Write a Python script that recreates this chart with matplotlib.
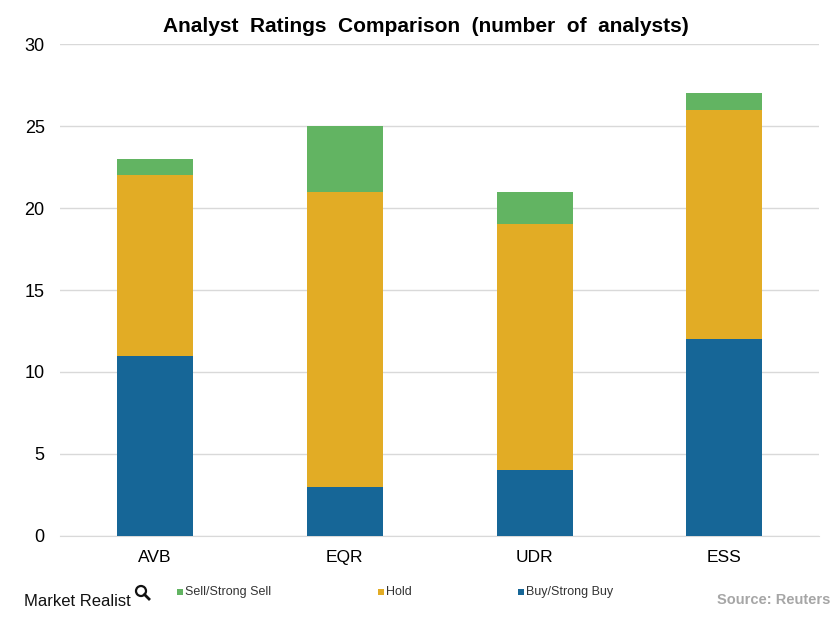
import matplotlib
matplotlib.use("Agg")
import matplotlib.pyplot as plt
import matplotlib.patches as mpatches
from matplotlib.lines import Line2D
import numpy as np

# ── Data ──────────────────────────────────────────────────────────────────────
TICKERS   = ["AVB", "EQR", "UDR", "ESS"]
BUY       = [11, 3, 4, 12]
HOLD      = [11, 18, 15, 14]
SELL      = [1, 4, 2, 1]
Y_TICKS   = [0, 5, 10, 15, 20, 25, 30]

C_BUY  = "#166697"
C_HOLD = "#E2AC25"
C_SELL = "#62B462"

plt.rcParams["font.family"] = ["Liberation Sans", "DejaVu Sans"]

W, H = 839, 620
fig = plt.figure(figsize=(W / 100, H / 100), dpi=100)
ax = fig.add_axes([0.0715, 0.1355, 0.905, 0.7935])

x = np.arange(len(TICKERS))
w = 0.4
buy = np.array(BUY)
hold = np.array(HOLD)
sell = np.array(SELL)
ax.bar(x, buy, width=w, color=C_BUY, zorder=3)
ax.bar(x, hold, width=w, bottom=buy, color=C_HOLD, zorder=3)
ax.bar(x, sell, width=w, bottom=buy + hold, color=C_SELL, zorder=3)

ax.set_xlim(-0.5, len(TICKERS) - 0.5)
ax.set_ylim(0, 30)
ax.set_yticks(Y_TICKS)
ax.set_yticklabels([str(t) for t in Y_TICKS], fontsize=13)
ax.set_xticks(x)
ax.set_xticklabels(TICKERS, fontsize=12.5)
ax.tick_params(axis="y", length=0, pad=11)
ax.tick_params(axis="x", length=0, pad=10)
ax.yaxis.grid(True, color="#D9D9D9", linewidth=1, zorder=0)
for s in ["top", "right", "left"]:
    ax.spines[s].set_visible(False)
ax.spines["bottom"].set_color("#D9D9D9")

fig.text(0.508, 0.958, "Analyst  Ratings  Comparison  (number  of  analysts)",
         ha="center", va="center", fontsize=15, fontweight="bold")

# ── Legend ────────────────────────────────────────────────────────────────────
leg_items = [("Sell/Strong Sell", C_SELL, 177),
             ("Hold", C_HOLD, 378),
             ("Buy/Strong Buy", C_BUY, 518)]
for label, col, px in leg_items:
    fig.patches.append(mpatches.Rectangle((px / W, 1 - 595 / H), 6 / W, 6 / H,
                                          transform=fig.transFigure,
                                          facecolor=col, edgecolor="none"))
    fig.text((px + 8) / W, 1 - 592 / H, label, ha="left", va="center",
             fontsize=9, color="#333333")

# ── Footer ────────────────────────────────────────────────────────────────────
fig.text(24 / W, 1 - 601 / H, "Market Realist", ha="left", va="center",
         fontsize=12, color="#111111")
fig.patches.append(mpatches.Ellipse((141 / W, 1 - 591 / H), 10 / W, 10 / H,
                                    transform=fig.transFigure, fill=False,
                                    edgecolor="#111111", linewidth=1.6))
fig.lines.append(Line2D([144.5 / W, 149 / W], [1 - 594.5 / H, 1 - 599 / H],
                        transform=fig.transFigure, color="#111111", linewidth=2))
fig.text(0.99, 1 - 600 / H, "Source: Reuters", ha="right", va="center",
         fontsize=10.5, fontweight="bold", color="#A6A6A6")

fig.savefig("out.png", dpi=100)
